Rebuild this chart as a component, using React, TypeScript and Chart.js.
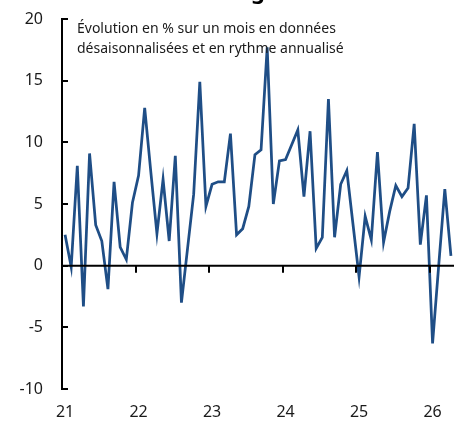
import React, { useEffect, useRef } from "react";
import { Chart, registerables } from "chart.js";

Chart.register(...registerables);

// Monthly values, Jan 2021 .. Apr 2026
const values: number[] = [
  2.5, -0.1, 8.1, -3.3, 9.1, 3.3, 2.0, -1.9, 6.8, 1.5, 0.5, 5.1,
  7.3, 12.8, 7.6, 2.6, 7.0, 2.0, 8.9, -3.0, 1.4, 5.8, 14.9, 4.8,
  6.6, 6.8, 6.8, 10.7, 2.5, 3.0, 4.8, 9.0, 9.4, 17.7, 5.0, 8.5,
  8.6, 9.8, 11.0, 5.6, 10.9, 1.4, 2.3, 13.5, 2.3, 6.6, 7.7, 3.4,
  -0.9, 4.0, 2.1, 9.2, 1.9, 4.4, 6.5, 5.6, 6.3, 11.5, 1.7, 5.7,
  -6.3, 0.0, 6.2, 0.8,
];
const yearLabels: string[] = ["21", "22", "23", "24", "25", "26"];
const yTicks: number[] = [-10, -5, 0, 5, 10, 15, 20];
const subtitleLines: string[] = [
  "Évolution en % sur un mois en données",
  "désaisonnalisées et en rythme annualisé",
];
const titleFragment = "g";

const FONT = "'Noto Sans', 'Open Sans', sans-serif";

export default function App() {
  const ref = useRef<HTMLCanvasElement | null>(null);

  useEffect(() => {
    if (!ref.current) return;
    const points = values.map((v, i) => ({ x: i + 0.5, y: v }));
    const monthsTotal = yearLabels.length * 12 - 8;

    const overlay = {
      id: "overlay",
      afterDatasetsDraw(chart: any) {
        const ctx = chart.ctx;
        const xs = chart.scales.x;
        const ys = chart.scales.y;
        const y0 = ys.getPixelForValue(0);
        ctx.save();
        ctx.strokeStyle = "#000";
        ctx.lineWidth = 2;
        ctx.beginPath();
        ctx.moveTo(xs.left, y0);
        ctx.lineTo(xs.right, y0);
        for (let k = 1; k < yearLabels.length; k++) {
          const px = Math.round(xs.getPixelForValue(k * 12));
          ctx.moveTo(px, y0);
          ctx.lineTo(px, y0 + 7);
        }
        ctx.stroke();
        // subtitle
        ctx.fillStyle = "#1a1a1a";
        ctx.font = `14px ${FONT}`;
        ctx.textAlign = "left";
        ctx.textBaseline = "alphabetic";
        subtitleLines.forEach((t, i) => {
          ctx.fillText(t, chart.chartArea.left + 15, 33 + i * 20);
        });
        // clipped title
        ctx.font = `bold 22px ${FONT}`;
        ctx.textAlign = "center";
        ctx.fillStyle = "#000";
        ctx.fillText(titleFragment, 258, -1.5);
        ctx.restore();
      },
    };

    const chart = new Chart(ref.current, {
      type: "line",
      data: {
        datasets: [
          {
            data: points,
            borderColor: "#1f4e86",
            borderWidth: 2.75,
            pointRadius: 0,
            tension: 0,
            fill: false,
          },
        ],
      },
      options: {
        animation: false,
        responsive: true,
        maintainAspectRatio: false,
        layout: { padding: { top: 19, right: 7, left: 0, bottom: 0 } },
        plugins: {
          legend: { display: false },
          tooltip: { enabled: false },
          title: { display: false },
        },
        scales: {
          x: {
            type: "linear",
            min: 0,
            max: monthsTotal,
            afterBuildTicks(scale: any) {
              scale.ticks = yearLabels.map((_, i) => ({ value: i * 12 + 0.5 }));
            },
            afterFit(scale: any) {
              scale.height = 37;
              scale.paddingLeft = 0;
              scale.paddingRight = 0;
            },
            grid: { display: false, drawTicks: false },
            border: { display: false },
            ticks: {
              autoSkip: false,
              maxRotation: 0,
              padding: 14,
              color: "#1a1a1a",
              font: { size: 16, family: FONT },
              callback: (_v: any, i: number) => yearLabels[i],
            },
          },
          y: {
            min: yTicks[0],
            max: yTicks[yTicks.length - 1],
            afterBuildTicks(scale: any) {
              scale.ticks = yTicks.map((v) => ({ value: v }));
            },
            afterFit(scale: any) {
              scale.width = 62;
              scale.paddingTop = 0;
              scale.paddingBottom = 0;
            },
            grid: {
              drawOnChartArea: false,
              drawTicks: true,
              tickLength: -6,
              color: "#000",
              lineWidth: 2,
            },
            border: { display: true, color: "#000", width: 2 },
            ticks: {
              padding: 25,
              color: "#1a1a1a",
              font: { size: 16, family: FONT },
              callback: (v: any) => String(v),
            },
          },
        },
      },
      plugins: [overlay],
    });
    return () => chart.destroy();
  }, []);

  return (
    <div style={{ position: "fixed", left: 0, top: 0, width: 461, height: 426, background: "#fff" }}>
      <canvas ref={ref} />
    </div>
  );
}
